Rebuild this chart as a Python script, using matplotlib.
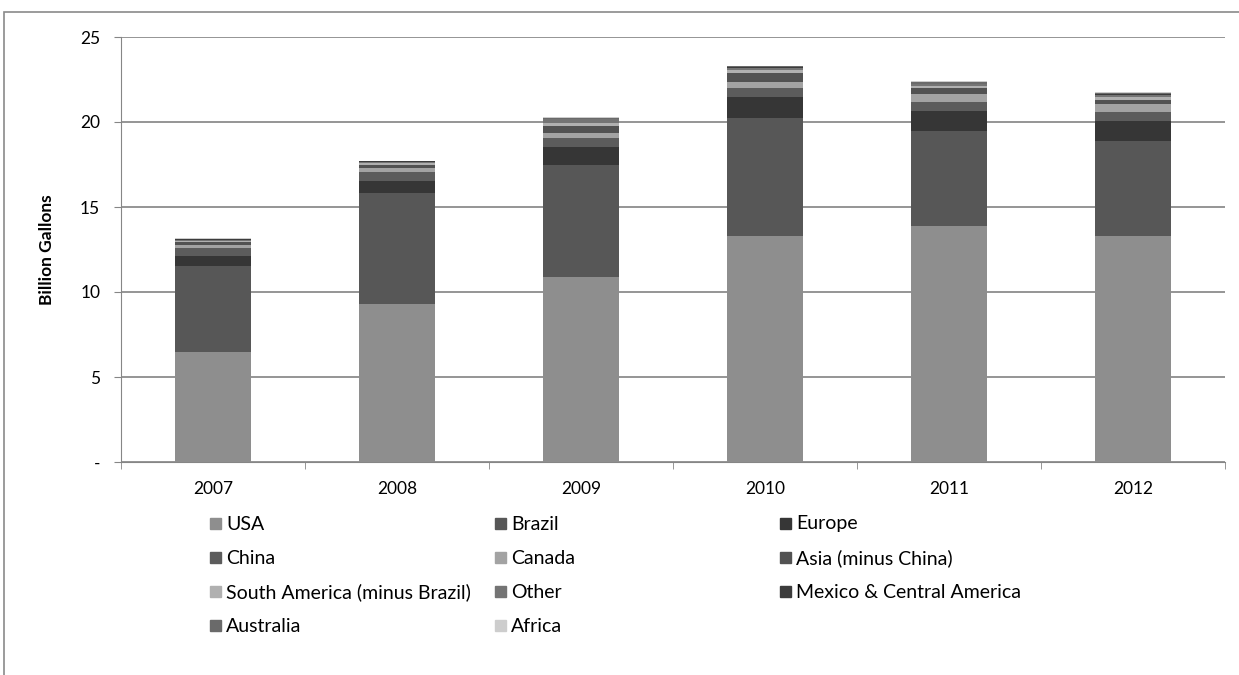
import matplotlib
matplotlib.use('Agg')
import matplotlib.pyplot as plt
from matplotlib.patches import Rectangle
import numpy as np

plt.rcParams['font.family'] = ['Lato', 'DejaVu Sans']

years = ['2007', '2008', '2009', '2010', '2011', '2012']
regions = ['USA', 'Brazil', 'Europe', 'China', 'Canada', 'Asia (minus China)',
           'South America (minus Brazil)', 'Other', 'Mexico & Central America',
           'Australia', 'Africa']

# billion gallons
usa = [6.50, 9.30, 10.90, 13.30, 13.90, 13.30]
brazil = [5.02, 6.50, 6.60, 6.92, 5.57, 5.58]
europe = [0.57, 0.73, 1.04, 1.25, 1.17, 1.18]
china = [0.49, 0.50, 0.54, 0.54, 0.56, 0.55]
canada = [0.21, 0.24, 0.29, 0.36, 0.46, 0.45]
asia = [0.13, 0.20, 0.40, 0.50, 0.33, 0.25]
south_america = [0.07, 0.10, 0.20, 0.20, 0.15, 0.18]
other = [0.08, 0.08, 0.20, 0.10, 0.10, 0.10]
mexico = [0.03, 0.03, 0.03, 0.05, 0.02, 0.05]
australia = [0.03, 0.03, 0.06, 0.05, 0.09, 0.07]
africa = [0.02, 0.02, 0.04, 0.05, 0.04, 0.04]

series = [usa, brazil, europe, china, canada, asia, south_america, other,
          mexico, australia, africa]
colors = ['#8e8e8e', '#575757', '#363636', '#5c5c5c', '#a3a3a3', '#525252',
          '#b0b0b0', '#747474', '#3c3c3c', '#6a6a6a', '#cdcdcd']

W, H = 1239, 675
fig = plt.figure(figsize=(W / 100, H / 100), dpi=100)
ax = fig.add_axes([121 / W, 1 - 462 / H, 1104 / W, 425 / H])

x = np.arange(len(years))
bottom = np.zeros(len(years))
for vals, c in zip(series, colors):
    ax.bar(x, vals, bottom=bottom, width=0.41, color=c, zorder=3)
    bottom += np.array(vals)

ax.set_xlim(-0.5, len(years) - 0.5)
ax.set_ylim(0, 25)
ax.set_yticks([0, 5, 10, 15, 20, 25])
ax.set_yticklabels(['-', '5', '10', '15', '20', '25'])
ax.set_xticks(x)
ax.set_xticklabels(years)
ax.set_xticks(np.arange(-0.5, len(years), 1), minor=True)
ax.tick_params(axis='x', which='major', length=0, pad=14, labelsize=12.5)
ax.tick_params(axis='x', which='minor', length=5, color='#868686')
ax.tick_params(axis='y', length=5, color='#868686', pad=10, labelsize=12.5)
ax.yaxis.grid(True, color='#8c8c8c', linewidth=1.3, zorder=0)
for s in ['top', 'right']:
    ax.spines[s].set_visible(False)
for s in ['left', 'bottom']:
    ax.spines[s].set_color('#868686')
ax.set_ylabel('Billion Gallons', fontweight='bold', fontsize=12.5, labelpad=18)

# legend laid out as in the original (3 equal columns)
col_x = [215, 500, 785]
row_y = [524, 558, 592, 626]
for i, (name, c) in enumerate(zip(regions, colors)):
    cx = col_x[i % 3]
    cy = row_y[i // 3]
    fig.add_artist(Rectangle(((cx - 5) / W, 1 - (cy + 5) / H), 11 / W, 11 / H,
                             transform=fig.transFigure, color=c))
    fig.text((cx + 11) / W, 1 - cy / H, name, fontsize=14, va='center', ha='left')

# outer chart frame
fig.add_artist(Rectangle((4 / W, -0.05), 1.1, 1 - 12 / H + 0.05,
                         transform=fig.transFigure, fill=False,
                         edgecolor='#8a8a8a', linewidth=1.2))

fig.savefig('out.png', dpi=100)
